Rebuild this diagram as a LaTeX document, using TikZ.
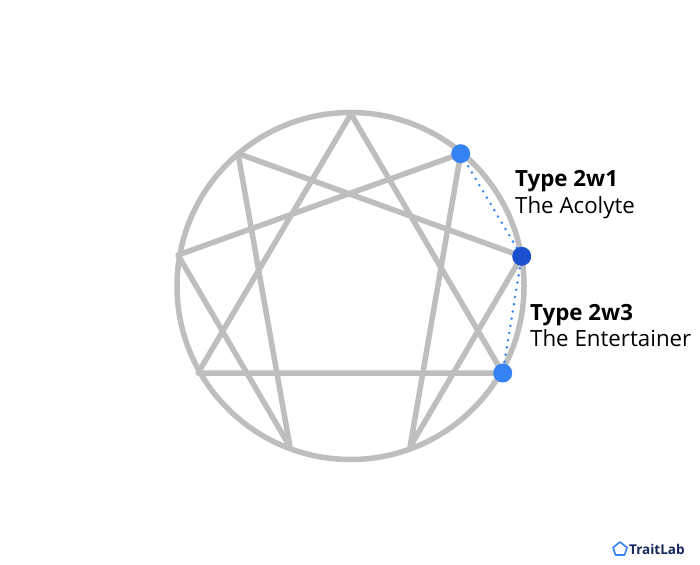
\documentclass[tikz,border=0pt]{standalone}
\usepackage{fontspec}
\setmainfont{Open Sans}
\definecolor{linegrey}{HTML}{BEBEBE}
\definecolor{wingblue}{HTML}{3582F2}
\definecolor{coreblue}{HTML}{1A4FD0}
\definecolor{navy}{HTML}{14285A}
\tikzset{
  figline/.style={draw=linegrey,line width=5.5pt,line join=round,line cap=round},
  wingdot/.style={circle,fill=wingblue,minimum size=19pt,inner sep=0pt},
  coredot/.style={circle,fill=coreblue,minimum size=19pt,inner sep=0pt},
  winglink/.style={draw=wingblue,line width=2.8pt,line cap=round,dash pattern=on 0pt off 7.3pt},
  label/.style={anchor=base west,inner sep=0pt,align=left,text=black,font=\fontsize{22.3}{26}\selectfont},
}
\begin{document}
\begin{tikzpicture}[x=1pt,y=-1pt]
\useasboundingbox (0,0) rectangle (700,564);
\fill[white] (0,0) rectangle (700,564);
\coordinate (p9) at (351,114);
\coordinate (p1) at (460.7,153.7);
\coordinate (p2) at (521.7,256.3);
\coordinate (p3) at (502.7,373);
\coordinate (p4) at (410,447);
\coordinate (p5) at (290,447);
\coordinate (p6) at (198,373);
\coordinate (p7) at (178,255);
\coordinate (p8) at (238,153.5);
\node[circle,draw=linegrey,line width=5.5pt,minimum size=347pt,inner sep=0pt] (ring) at (350.5,286) {};
\draw[figline] (p9) -- (p3) -- (p6) -- cycle;
\draw[figline] (p1) -- (p4) -- (p2) -- (p8) -- (p5) -- (p7) -- cycle;
\path[winglink] (p1) -- (p2) -- (p3);
\node[wingdot] (d1) at (p1) {};
\node[coredot] (d2) at (p2) {};
\node[wingdot] (d3) at (p3) {};
\node[label] (t1a) at (515,186.7) {\textbf{Type 2w1}};
\node[label] (t1b) at (515,213.3) {The Acolyte};
\node[label] (t3a) at (530,320) {\textbf{Type 2w3}};
\node[label] (t3b) at (530,346.7) {The Entertainer};
\draw[draw=wingblue,line width=1.6pt,line join=round]
  (620,542) -- (627,547.5) -- (624.5,555) -- (615.5,555) -- (613,547.5) -- cycle;
\node[anchor=west,inner sep=0pt,text=navy,font=\fontsize{13.5}{15}\selectfont\bfseries] (logo) at (629,549) {TraitLab};
\end{tikzpicture}
\end{document}
